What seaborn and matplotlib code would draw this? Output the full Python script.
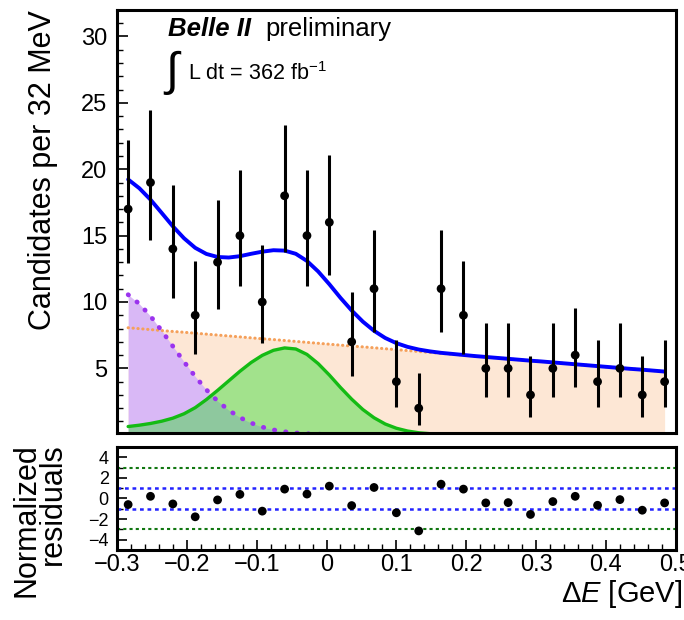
import numpy as np
import pandas as pd
import matplotlib
matplotlib.use("Agg")
import matplotlib.pyplot as plt
import seaborn as sns
from matplotlib.ticker import MultipleLocator, FuncFormatter

# --- data: Delta E histogram, 25 bins of 32 MeV ---
bin_centers = np.linspace(-0.284, 0.484, 25)
counts = [17, 19, 14, 9, 13, 15, 10, 18, 15, 16, 7, 11, 4,
          2, 11, 9, 5, 5, 3, 5, 6, 4, 5, 3, 4]
err_lo = [4.08, 4.32, 3.70, 2.94, 3.56, 3.83, 3.11, 4.20, 3.83, 3.96, 2.58, 3.27, 1.91,
          1.29, 3.27, 2.94, 2.16, 2.16, 1.63, 2.16, 2.38, 1.91, 2.16, 1.63, 1.91]
err_hi = [5.20, 5.43, 4.83, 4.11, 4.70, 4.96, 4.27, 5.32, 4.96, 5.08, 3.77, 4.42, 3.16,
          2.64, 4.42, 4.11, 3.38, 3.38, 2.92, 3.38, 3.58, 3.16, 3.38, 2.92, 3.16]
residuals = [-0.59, 0.21, -0.53, -1.78, -0.14, 0.40, -1.23, 0.91, 0.43, 1.20, -0.69, 1.07, -1.39,
             -3.15, 1.39, 0.91, -0.43, -0.40, -1.55, -0.30, 0.21, -0.66, -0.11, -1.14, -0.43]

# fit components sampled every 16 MeV
curve_x = np.linspace(-0.284, 0.484, 49)
bkg_cont = [8.06, 7.99, 7.92, 7.85, 7.78, 7.72, 7.65, 7.58, 7.51, 7.44,
            7.37, 7.30, 7.23, 7.17, 7.10, 7.03, 6.96, 6.89, 6.82, 6.75,
            6.68, 6.62, 6.55, 6.48, 6.41, 6.34, 6.27, 6.20, 6.13, 6.07,
            6.00, 5.93, 5.86, 5.79, 5.72, 5.65, 5.58, 5.52, 5.45, 5.38,
            5.31, 5.24, 5.17, 5.10, 5.03, 4.96, 4.90, 4.83, 4.76]
bkg_peak = [10.55, 9.86, 8.94, 7.84, 6.67, 5.50, 4.39, 3.39, 2.54, 1.85,
            1.30, 0.89, 0.58, 0.37, 0.23, 0.14, 0.08, 0.05, 0.02, 0.0,
            0.0, 0.0, 0.0, 0.0, 0.0, 0.0, 0.0, 0.0, 0.0, 0.0,
            0.0, 0.0, 0.0, 0.0, 0.0, 0.0, 0.0, 0.0, 0.0, 0.0,
            0.0, 0.0, 0.0, 0.0, 0.0, 0.0, 0.0, 0.0, 0.0]
signal = [0.62, 0.72, 0.85, 1.02, 1.25, 1.58, 2.04, 2.65, 3.34, 4.06,
          4.78, 5.44, 5.98, 6.36, 6.54, 6.46, 6.05, 5.36, 4.50, 3.56,
          2.68, 1.90, 1.28, 0.81, 0.49, 0.28, 0.15, 0.08, 0.04, 0.02,
          0.01, 0.0, 0.0, 0.0, 0.0, 0.0, 0.0, 0.0, 0.0, 0.0,
          0.0, 0.0, 0.0, 0.0, 0.0, 0.0, 0.0, 0.0, 0.0]

df = pd.DataFrame({"x": bin_centers, "n": counts, "lo": err_lo, "hi": err_hi, "pull": residuals})
fit = pd.DataFrame({"x": curve_x, "cont": bkg_cont, "peak": bkg_peak, "sig": signal})
fit["total"] = fit["cont"] + fit["peak"] + fit["sig"]

sns.set_style("ticks", {"axes.edgecolor": "black", "xtick.color": "black",
                        "ytick.color": "black", "text.color": "black", "axes.labelcolor": "black"})
plt.rcParams["font.family"] = ["Liberation Sans", "DejaVu Sans"]
plt.rcParams["mathtext.fontset"] = "custom"
plt.rcParams["mathtext.rm"] = "Liberation Sans"
plt.rcParams["mathtext.it"] = "Liberation Sans:italic"

fig = plt.figure(figsize=(6.84, 6.2), dpi=100)
ax = fig.add_axes([0.171, 0.302, 0.817, 0.682])
axr = fig.add_axes([0.171, 0.113, 0.817, 0.166])

# filled components
ax.fill_between(fit["x"], 0, fit["cont"], color="#fde7d5", lw=0, zorder=1)
peak = fit[fit["peak"] > 0]
ax.fill_between(peak["x"], 0, peak["peak"], color="#d9b8f6", lw=0, zorder=2)
ax.fill_between(fit["x"], 0, fit["sig"], color="#33dd33", alpha=0.45, lw=0, zorder=3)

sns.lineplot(data=fit, x="x", y="cont", ax=ax, color="#f5a05a", lw=2.2,
             linestyle=(0, (0.1, 1.5)), dash_capstyle="round", zorder=4)
sns.lineplot(data=peak, x="x", y="peak", ax=ax, color="#9b33ee", lw=3.4,
             linestyle=(0, (0.1, 2.3)), dash_capstyle="round", zorder=4)
sns.lineplot(data=fit, x="x", y="sig", ax=ax, color="#14bb14", lw=2.4, zorder=5)
sns.lineplot(data=fit, x="x", y="total", ax=ax, color="#0000ff", lw=2.8, zorder=6)

# data points with Poisson errors
ax.vlines(df["x"], df["n"] - df["lo"], df["n"] + df["hi"], color="black", lw=2.2, zorder=7)
sns.scatterplot(data=df, x="x", y="n", ax=ax, color="black", s=40, edgecolor="none", zorder=8)

ax.set_xlim(-0.3, 0.5)
ax.set_ylim(0.15, 32)
ax.xaxis.set_major_locator(MultipleLocator(0.1))
ax.xaxis.set_minor_locator(MultipleLocator(0.02))
ax.yaxis.set_major_locator(MultipleLocator(5))
ax.yaxis.set_minor_locator(MultipleLocator(1))
ax.tick_params(axis="x", which="both", labelbottom=False)
ax.tick_params(which="major", direction="in", length=8, width=1.2, labelsize=17, pad=7)
ax.tick_params(which="minor", direction="in", length=4, width=1.0)
ax.set_xlabel("")
ax.set_ylabel("Candidates per 32 MeV", fontsize=22, loc="top")
ax.yaxis.set_label_coords(-0.105, 1.0)

ax.text(0.091, 0.9385, "Belle II", transform=ax.transAxes, fontsize=18.5,
        fontweight="bold", fontstyle="italic", va="baseline")
ax.text(0.265, 0.9385, "preliminary", transform=ax.transAxes, fontsize=18.5, va="baseline")
ax.text(0.083, 0.852, r"$\int$", transform=ax.transAxes, fontsize=34, va="center")
ax.text(0.127, 0.8345, r"L dt = 362 fb$^{-1}$", transform=ax.transAxes, fontsize=15.5, va="baseline")

# residual panel
for lvl, col in [(3, "#117711"), (-3, "#117711"), (1, "#2222ff"), (-1, "#2222ff")]:
    axr.axhline(lvl, color=col, lw=1.8 if abs(lvl) == 1 else 1.5, linestyle=(0, (1.5, 1.5)), zorder=1)
sns.scatterplot(data=df, x="x", y="pull", ax=axr, color="black", s=40, edgecolor="none", zorder=3)

axr.set_xlim(-0.3, 0.5)
axr.set_ylim(-5, 5)
axr.xaxis.set_major_locator(MultipleLocator(0.1))
axr.xaxis.set_minor_locator(MultipleLocator(0.02))
axr.yaxis.set_major_locator(MultipleLocator(2))
axr.yaxis.set_minor_locator(MultipleLocator(1))
axr.xaxis.set_major_formatter(FuncFormatter(lambda v, p: f"{v:.1f}".replace("-", "\u2212") if abs(v) > 1e-9 else "0"))
axr.yaxis.set_major_formatter(FuncFormatter(lambda v, p: f"{v:g}".replace("-", "\u2212")))
axr.tick_params(which="major", direction="in", length=7, width=1.2, pad=6)
axr.tick_params(which="minor", direction="in", length=4, width=1.0)
axr.tick_params(axis="x", labelsize=17, pad=3)
axr.tick_params(axis="y", labelsize=13)
axr.set_ylabel("Normalized\nresiduals", fontsize=22, loc="top", linespacing=0.85)
axr.yaxis.set_label_coords(-0.088, 1.04)
axr.set_xlabel(r"$\Delta E$ [GeV]", fontsize=21, loc="right")
axr.xaxis.set_label_coords(1.012, -0.27)

for a in (ax, axr):
    for s in a.spines.values():
        s.set_linewidth(2.2)
        s.set_zorder(10)

fig.savefig("out.png", dpi=100)
